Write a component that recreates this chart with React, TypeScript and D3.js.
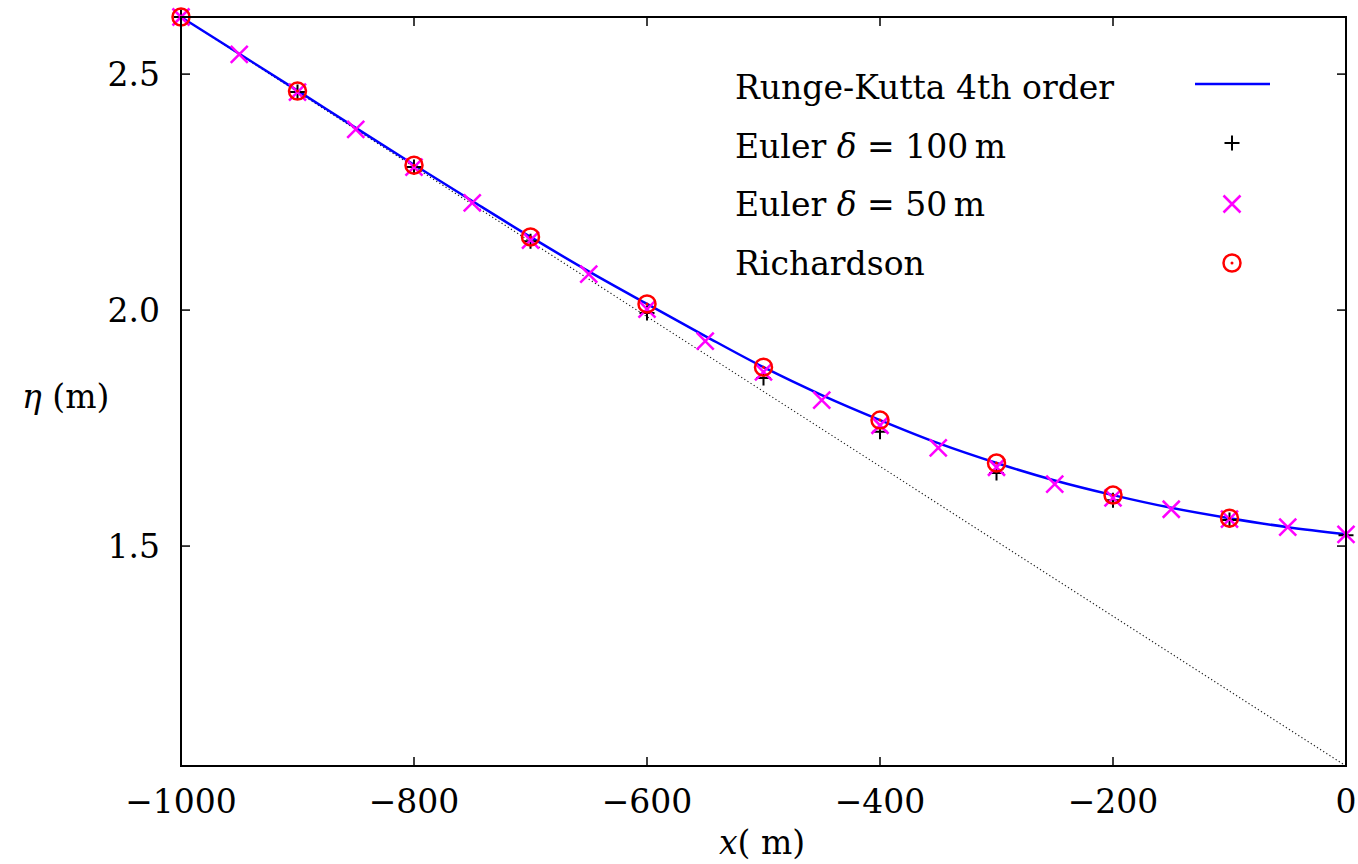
import React, { useEffect, useRef } from 'react';
import * as d3 from 'd3';

// step positions (m)
const xRk = [-1000, -950, -900, -850, -800, -750, -700, -650, -600, -550, -500, -450, -400, -350, -300, -250, -200, -150, -100, -50, 0];
const rungeKutta = [2.621, 2.543, 2.465, 2.386, 2.308, 2.231, 2.155, 2.082, 2.013, 1.945, 1.879, 1.82, 1.767, 1.718, 1.676, 1.639, 1.608, 1.581, 1.559, 1.54, 1.525];

const x100 = [-1000, -900, -800, -700, -600, -500, -400, -300, -200, -100, 0];
const euler100 = [2.621, 2.462, 2.303, 2.146, 1.994, 1.856, 1.742, 1.655, 1.597, 1.555, 1.523];

const x50 = xRk;
const euler50 = [2.621, 2.542, 2.462, 2.383, 2.303, 2.227, 2.148, 2.076, 2.002, 1.934, 1.869, 1.809, 1.756, 1.708, 1.667, 1.631, 1.602, 1.578, 1.557, 1.54, 1.525];

const xRich = [-1000, -900, -800, -700, -600, -500, -400, -300, -200, -100];
const richardson = [2.621, 2.464, 2.307, 2.155, 2.013, 1.879, 1.767, 1.676, 1.608, 1.559];

// straight slope line from the first point
const xSlope = [-1000, 0];
const slope = [2.621, 1.034];

const xTicks = [-1000, -800, -600, -400, -200, 0];
const yTicks = [1.5, 2.0, 2.5];
const legendLabels = ['Runge-Kutta 4th order', 'Euler δ = 100 m', 'Euler δ = 50 m', 'Richardson'];

const W = 1358;
const H = 864;
const margin = { top: 17, right: 12, bottom: 98, left: 181 };
const FONT = "'DejaVu Serif', 'Liberation Serif', serif";
const FS = 33;

const App = () => {
  const ref = useRef<SVGSVGElement>(null);

  useEffect(() => {
    const svg = d3.select(ref.current);
    svg.selectAll('*').remove();
    const width = W - margin.left - margin.right;
    const height = H - margin.top - margin.bottom;

    const x = d3.scaleLinear().domain([-1000, 0]).range([0, width]);
    const y = d3.scaleLinear().domain([1.034, 2.621]).range([height, 0]);

    const g = svg.append('g').attr('transform', `translate(${margin.left},${margin.top})`);

    // ticks, inward on all sides
    const tl = 9;
    xTicks.forEach(t => {
      g.append('line').attr('x1', x(t)).attr('x2', x(t)).attr('y1', height).attr('y2', height - tl).attr('stroke', '#000').attr('stroke-width', 1.5);
      g.append('line').attr('x1', x(t)).attr('x2', x(t)).attr('y1', 0).attr('y2', tl).attr('stroke', '#000').attr('stroke-width', 1.5);
      g.append('text')
        .attr('x', x(t))
        .attr('y', height + 47)
        .attr('text-anchor', 'middle')
        .attr('font-family', FONT)
        .attr('font-size', FS)
        .text(t < 0 ? `−${Math.abs(t)}` : `${t}`);
    });
    yTicks.forEach(t => {
      g.append('line').attr('x1', 0).attr('x2', tl).attr('y1', y(t)).attr('y2', y(t)).attr('stroke', '#000').attr('stroke-width', 1.5);
      g.append('line').attr('x1', width).attr('x2', width - tl).attr('y1', y(t)).attr('y2', y(t)).attr('stroke', '#000').attr('stroke-width', 1.5);
      g.append('text')
        .attr('x', -21)
        .attr('y', y(t) + 12)
        .attr('text-anchor', 'end')
        .attr('font-family', FONT)
        .attr('font-size', FS)
        .text(d3.format('.1f')(t));
    });

    // slope line
    g.append('path')
      .datum(xSlope.map((d, i) => [d, slope[i]] as [number, number]))
      .attr('fill', 'none')
      .attr('stroke', '#222')
      .attr('stroke-width', 1.2)
      .attr('stroke-dasharray', '1.2,2.5')
      .attr('d', d3.line().x(d => x(d[0])).y(d => y(d[1])));

    // RK4 curve
    const rkLine = d3.line<[number, number]>().x(d => x(d[0])).y(d => y(d[1])).curve(d3.curveCatmullRom);
    g.append('path')
      .datum(xRk.map((d, i) => [d, rungeKutta[i]] as [number, number]))
      .attr('fill', 'none')
      .attr('stroke', '#0000ff')
      .attr('stroke-width', 2.5)
      .attr('d', rkLine);

    const plus = (sel, cx, cy) => {
      sel.append('path')
        .attr('d', `M${cx - 7.5},${cy}H${cx + 7.5}M${cx},${cy - 7.5}V${cy + 7.5}`)
        .attr('stroke', '#000').attr('stroke-width', 2).attr('fill', 'none');
    };
    const cross = (sel, cx, cy) => {
      const s = 8.5;
      sel.append('path')
        .attr('d', `M${cx - s},${cy - s}L${cx + s},${cy + s}M${cx - s},${cy + s}L${cx + s},${cy - s}`)
        .attr('stroke', '#ff00ff').attr('stroke-width', 2.5).attr('fill', 'none');
    };
    const circ = (sel, cx, cy) => {
      sel.append('circle').attr('cx', cx).attr('cy', cy).attr('r', 8.5).attr('fill', 'none').attr('stroke', '#ff0000').attr('stroke-width', 2.5);
      sel.append('circle').attr('cx', cx).attr('cy', cy).attr('r', 1.5).attr('fill', '#ff0000');
    };

    x100.forEach((d, i) => plus(g, x(d), y(euler100[i])));
    x50.forEach((d, i) => cross(g, x(d), y(euler50[i])));
    xRich.forEach((d, i) => circ(g, x(d), y(richardson[i])));

    // frame
    g.append('rect').attr('width', width).attr('height', height).attr('fill', 'none').attr('stroke', '#000').attr('stroke-width', 2);

    // legend
    const lg = svg.append('g');
    const rowY = [87, 146, 204, 263];
    const addLabel = (i) => {
      const t = lg.append('text').attr('x', 735).attr('y', rowY[i] + 12).attr('font-family', FONT).attr('font-size', FS);
      if (i === 1 || i === 2) {
        t.append('tspan').text('Euler ');
        t.append('tspan').attr('font-style', 'italic').text('δ');
        t.append('tspan').text(i === 1 ? ' = 100\u2009m' : ' = 50\u2009m');
      } else {
        t.text(legendLabels[i]);
      }
    };
    legendLabels.forEach((_, i) => addLabel(i));
    lg.append('line').attr('x1', 1195).attr('x2', 1270).attr('y1', 84).attr('y2', 84).attr('stroke', '#0000ff').attr('stroke-width', 2.5);
    plus(lg, 1232, rowY[1] - 3);
    cross(lg, 1232, rowY[2]);
    circ(lg, 1232, rowY[3]);

    // axis titles
    const xt = svg.append('text').attr('x', 762).attr('y', 854).attr('text-anchor', 'middle').attr('font-family', FONT).attr('font-size', FS);
    xt.append('tspan').attr('font-style', 'italic').text('x');
    xt.append('tspan').text('( m)');
    const yt = svg.append('text').attr('x', 22).attr('y', 408).attr('font-family', FONT).attr('font-size', FS);
    yt.append('tspan').attr('font-style', 'italic').text('η');
    yt.append('tspan').text(' (m)');
  }, []);

  return <svg ref={ref} width={W} height={H} style={{ position: 'absolute', left: 0, top: 0, background: '#fff' }}></svg>;
};

export default App;
